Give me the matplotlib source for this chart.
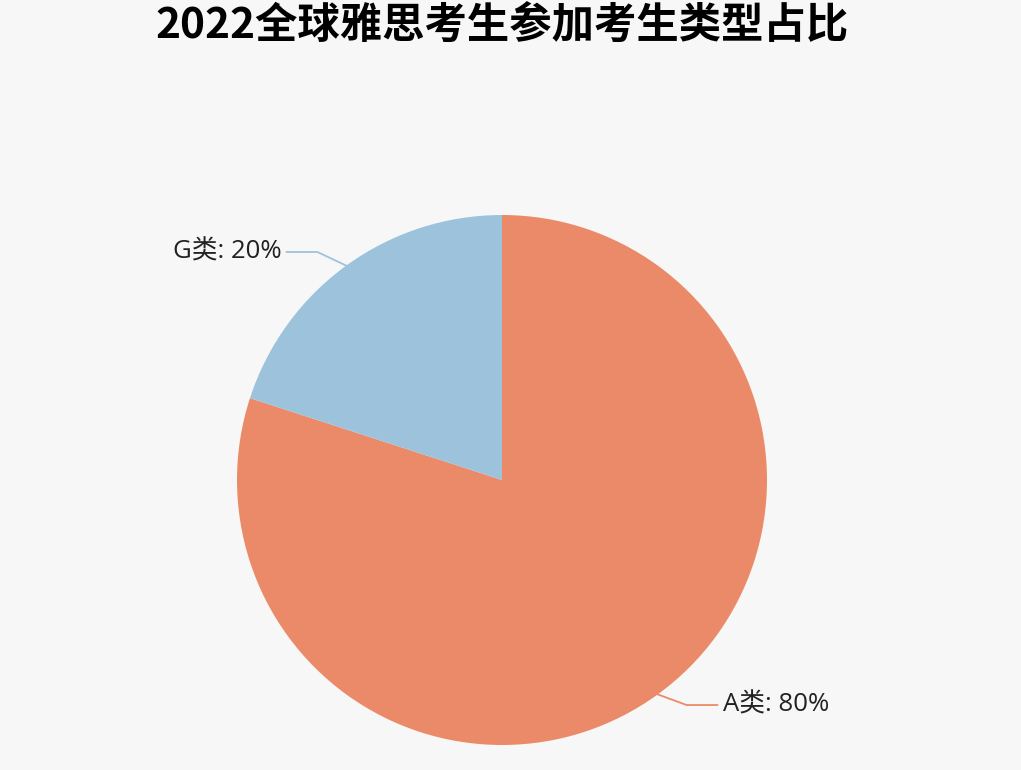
import numpy as np
import matplotlib
matplotlib.use("Agg")
import matplotlib.pyplot as plt

plt.rcParams['font.family'] = ['Open Sans', 'Noto Sans CJK SC', 'DejaVu Sans']

title = "2022全球雅思考生参加考生类型占比"
categories = ["A类", "G类"]
values = [80, 20]
colors = ["#EB8A68", "#9DC3DC"]

W, H = 1021, 770
fig = plt.figure(figsize=(W / 100, H / 100), dpi=100, facecolor="#F7F7F7")
ax = fig.add_axes([0, 0, 1, 1])
ax.set_facecolor("#F7F7F7")

cx, cy, r = 502, H - 480, 265
wedges, _ = ax.pie(values, colors=colors, startangle=90, counterclock=False,
                   center=(cx, cy), radius=r, frame=True,
                   wedgeprops=dict(linewidth=0))
ax.set_xlim(0, W)
ax.set_ylim(0, H)
ax.set_aspect("equal")
ax.axis("off")

total = sum(values)
for w, cat, v, col in zip(wedges, categories, values, colors):
    ang = np.deg2rad((w.theta1 + w.theta2) / 2)
    dx, dy = np.cos(ang), np.sin(ang)
    side = np.sign(dx)
    p1 = (cx + r * dx, cy + r * dy)
    p2 = (cx + (r + 15) * dx + 20 * side, cy + (r + 15) * dy + 1.5)
    p3 = (p2[0] + 31 * side, p2[1])
    ax.plot([p1[0], p2[0], p3[0]], [p1[1], p2[1], p3[1]], color=col, lw=1.3,
            solid_joinstyle="round", solid_capstyle="round")
    label = f"{cat}: {v / total * 100:.0f}%"
    ax.text(p3[0] + 5 * side, p3[1], label, ha="left" if side > 0 else "right",
            va="center", fontsize=18.5, color="#222222")

fig.text(502 / W, 1 - 27 / H, title, ha="center", va="center", fontsize=30.5,
         fontweight="bold", color="#000000",
         family=['Noto Sans CJK SC', 'DejaVu Sans'])

fig.savefig("out.png", dpi=100, facecolor=fig.get_facecolor())
